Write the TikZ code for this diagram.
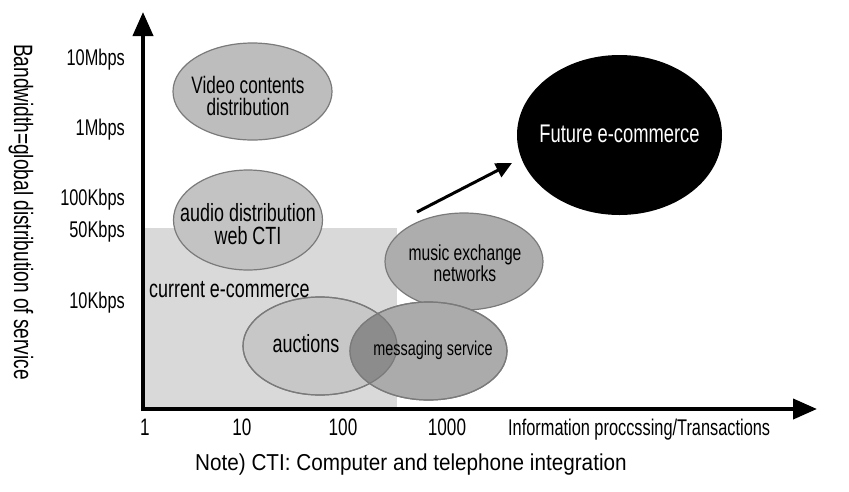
\documentclass[tikz,border=0pt]{standalone}
\usepackage{fontspec}
\setmainfont{Liberation Sans}[FakeStretch=0.72]
\newfontfamily\notefont{Liberation Sans}[FakeStretch=0.9]
\usetikzlibrary{shapes.geometric,arrows.meta}
\definecolor{zonegray}{HTML}{D9D9D9}
\definecolor{edgegray}{HTML}{7A7A7A}
\definecolor{fillA}{HTML}{BDBDBD}
\definecolor{fillB}{HTML}{C3C3C3}
\definecolor{fillC}{HTML}{ADADAD}
\definecolor{fillD}{HTML}{C7C7C7}
\definecolor{fillE}{HTML}{ABABAB}
\definecolor{fillO}{HTML}{8C8C8C}
\begin{document}
\begin{tikzpicture}[x=1pt,y=-1pt,
  bubble/.style={ellipse,draw=edgegray,line width=1.2pt,inner sep=0pt},
  ax/.style={line width=4pt,-{Triangle[length=24pt,width=20pt]}},
  tick/.style={inner sep=0pt,anchor=base,font=\fontsize{23.8}{23.8}\selectfont},
  ylab/.style={inner sep=0pt,anchor=base east,font=\fontsize{22.7}{22.7}\selectfont},
  txt/.style={inner sep=0pt,align=center}]
\useasboundingbox (0,0) rectangle (849,491);
\fill[white] (0,0) rectangle (849,491);
% current e-commerce zone
\fill[zonegray] (143,228) rectangle (397,409);
% bubbles
\node[bubble,fill=fillA,minimum width=159pt,minimum height=97pt] (video) at (252.5,91.5) {};
\node[bubble,fill=fillB,minimum width=149pt,minimum height=100pt] (audio) at (248,220) {};
\node[bubble,fill=fillC,minimum width=158pt,minimum height=97pt] (music) at (464,261.5) {};
\node[bubble,fill=fillD,minimum width=154pt,minimum height=98pt] (auct) at (320,346) {};
\node[bubble,fill=fillE,minimum width=157pt,minimum height=98pt] (msg) at (428.5,351) {};
\begin{scope}
  \clip (320,346) ellipse [x radius=77, y radius=49];
  \fill[fillO] (428.5,351) ellipse [x radius=78.5, y radius=49];
\end{scope}
\draw[edgegray,line width=1.2pt] (320,346) ellipse [x radius=77, y radius=49];
\draw[edgegray,line width=1.2pt] (428.5,351) ellipse [x radius=78.5, y radius=49];
\node[ellipse,fill=black,inner sep=0pt,minimum width=205pt,minimum height=160pt] (future) at (619.5,135) {};
% bubble texts
\node[txt,font=\fontsize{23.8}{22}\selectfont] (tvideo) at (248,95.5) {Video contents\\distribution};
\node[txt,font=\fontsize{24.9}{23}\selectfont] (taudio) at (248,224.5) {audio distribution\\web CTI};
\node[txt,font=\fontsize{21.7}{17}\selectfont] (tmusic) at (465,263.5) {music exchange\\networks};
\node[inner sep=0pt,anchor=base,font=\fontsize{24.9}{24.9}\selectfont] (tauct) at (306,352) {auctions};
\node[inner sep=0pt,anchor=base,font=\fontsize{20}{20}\selectfont] (tmsg) at (433,355) {messaging service};
\node[inner sep=0pt,anchor=base west,font=\fontsize{24.9}{24.9}\selectfont] (tcur) at (149,297) {current e-commerce};
\node[inner sep=0pt,anchor=base,text=white,font=\fontsize{25.5}{25.5}\selectfont] (tfut) at (619.5,142) {Future e-commerce};
% trend arrow
\coordinate (as) at (417,212);
\coordinate (ae) at (512,163);
\draw[line width=3pt,-{Triangle[length=16pt,width=15pt]}] (as) -- (ae);
% axes
\coordinate (o) at (143,409);
\coordinate (ytip) at (143,12);
\coordinate (xtip) at (817,409);
\draw[ax] (143,411) -- (ytip);
\draw[ax] (141,409) -- (xtip);
% y labels
\node[ylab] (y1) at (125,65) {10Mbps};
\node[ylab] (y2) at (125,135) {1Mbps};
\node[ylab] (y3) at (125,205) {100Kbps};
\node[ylab] (y4) at (125,237) {50Kbps};
\node[ylab] (y5) at (125,308) {10Kbps};
\node[inner sep=0pt,rotate=-90,font=\fontsize{26.5}{26.5}\selectfont] (ytitle) at (21,212) {Bandwidth=global distribution of service};
% x labels
\node[tick] (x1) at (145,435) {1};
\node[tick] (x2) at (242,435) {10};
\node[tick] (x3) at (343,435) {100};
\node[tick] (x4) at (447,435) {1000};
\node[inner sep=0pt,anchor=base west,font=\fontsize{22.7}{22.7}\selectfont] (xtitle) at (508,435) {Information proccssing/Transactions};
\node[inner sep=0pt,anchor=base west,font=\notefont\fontsize{23}{23}\selectfont] (note) at (195,470) {Note) CTI: Computer and telephone integration};
\end{tikzpicture}
\end{document}
